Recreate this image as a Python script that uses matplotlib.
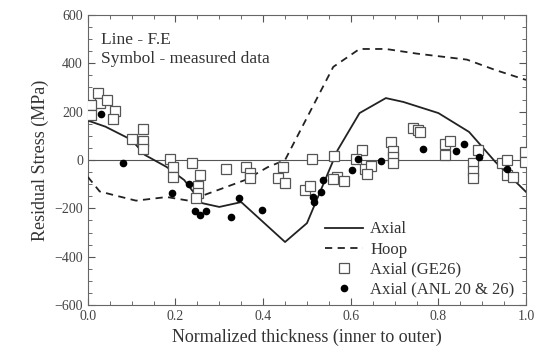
import matplotlib.pyplot as plt
from matplotlib.ticker import MultipleLocator

# F.E. results (lines)
fe_axial_x = [0.0, 0.04, 0.10, 0.13, 0.18, 0.22, 0.26, 0.30, 0.35, 0.45, 0.50, 0.57,
              0.62, 0.68, 0.72, 0.80, 0.87, 0.93, 1.0]
fe_axial_y = [163, 138, 83, 21, -29, -83, -178, -194, -174, -339, -261, 41,
              194, 256, 240, 194, 116, -8, -132]

fe_hoop_x = [0.0, 0.027, 0.07, 0.11, 0.18, 0.23, 0.30, 0.36, 0.41, 0.45, 0.56, 0.62,
             0.68, 0.75, 0.865, 0.93, 1.0]
fe_hoop_y = [-70, -130, -150, -168, -153, -168, -122, -82, -30, 0, 385, 459,
             459, 440, 415, 372, 331]

# measured data (symbols)
ge26_x = [0.024, 0.027, 0.043, 0.008, 0.008, 0.062, 0.058, 0.10, 0.126, 0.126, 0.126,
          0.187, 0.195, 0.195, 0.237, 0.256, 0.252, 0.252, 0.247, 0.315, 0.361, 0.37,
          0.37, 0.446, 0.434, 0.45, 0.511, 0.562, 0.495, 0.507, 0.568, 0.585, 0.56,
          0.625, 0.612, 0.632, 0.646, 0.636, 0.692, 0.697, 0.697, 0.697, 0.743, 0.754,
          0.758, 0.815, 0.826, 0.815, 0.891, 0.88, 0.88, 0.88, 0.945, 0.956, 0.956,
          0.971, 0.998, 0.998]
ge26_y = [276, 237, 248, 228, 186, 204, 168, 85, 127, 80, 44,
          3, -30, -69, -14, -62, -108, -135, -159, -39, -30, -52,
          -76, -30, -76, -94, 4, 18, -124, -108, -69, -86, -79,
          41, 3, -39, -25, -58, 76, 39, 11, -14, 131, 124,
          117, 65, 80, 21, 41, -11, -44, -76, -11, 0, -62,
          -69, 34, -7]

anl_x = [0.031, 0.081, 0.193, 0.231, 0.244, 0.256, 0.269, 0.326, 0.345, 0.398, 0.514,
         0.516, 0.533, 0.537, 0.602, 0.616, 0.669, 0.764, 0.841, 0.858, 0.893, 0.957]
anl_y = [189, -11, -135, -99, -211, -228, -211, -237, -159, -207, -152,
         -172, -131, -83, -41, 4, -3, 44, 39, 67, 14, -39]

plt.rcParams["font.family"] = ["Liberation Serif", "DejaVu Serif"]

fig = plt.figure(figsize=(5.39, 3.54), dpi=100)
ax = fig.add_axes([0.163, 0.138, 0.813, 0.82])

ax.axhline(0, color="#555555", linewidth=0.8, zorder=1)
ax.plot(fe_axial_x, fe_axial_y, color="#222222", linewidth=1.3, label="Axial", zorder=3)
ax.plot(fe_hoop_x, fe_hoop_y, color="#222222", linewidth=1.3, linestyle=(0, (4, 3)),
        label="Hoop", zorder=3)
ax.plot(ge26_x, ge26_y, linestyle="none", marker="s", markersize=7.5,
        markerfacecolor="white", markeredgecolor="#555555", markeredgewidth=0.9,
        label="Axial (GE26)", zorder=4)
ax.plot(anl_x, anl_y, linestyle="none", marker="o", markersize=4.5,
        color="black", label="Axial (ANL 20 & 26)", zorder=5)

ax.set_xlim(0, 1.0)
ax.set_ylim(-600, 600)
ax.xaxis.set_major_locator(MultipleLocator(0.2))
ax.xaxis.set_minor_locator(MultipleLocator(0.05))
ax.yaxis.set_major_locator(MultipleLocator(200))
ax.yaxis.set_minor_locator(MultipleLocator(50))
ax.set_xticklabels([f"{v:.1f}" for v in ax.get_xticks()])
ax.tick_params(which="both", direction="in", top=True, right=True, color="#555555",
               labelsize=10, labelcolor="#444444")
ax.tick_params(which="major", length=5)
ax.tick_params(which="minor", length=3)
for s in ax.spines.values():
    s.set_color("#666666")

ax.set_xlabel("Normalized thickness (inner to outer)", fontsize=13, color="#333333")
ax.set_ylabel("Residual Stress (MPa)", fontsize=13, color="#333333")

ax.text(0.03, 0.94, "Line - F.E", transform=ax.transAxes, fontsize=12.5,
        color="#333333", va="top")
ax.text(0.03, 0.875, "Symbol - measured data", transform=ax.transAxes, fontsize=12.5,
        color="#333333", va="top")

ax.legend(loc="lower right", bbox_to_anchor=(1.0, -0.015), frameon=False, fontsize=12,
          labelcolor="#333333", handlelength=2.3, handletextpad=0.4, labelspacing=0.25,
          borderaxespad=0.3)

fig.savefig("out.png", dpi=100)
